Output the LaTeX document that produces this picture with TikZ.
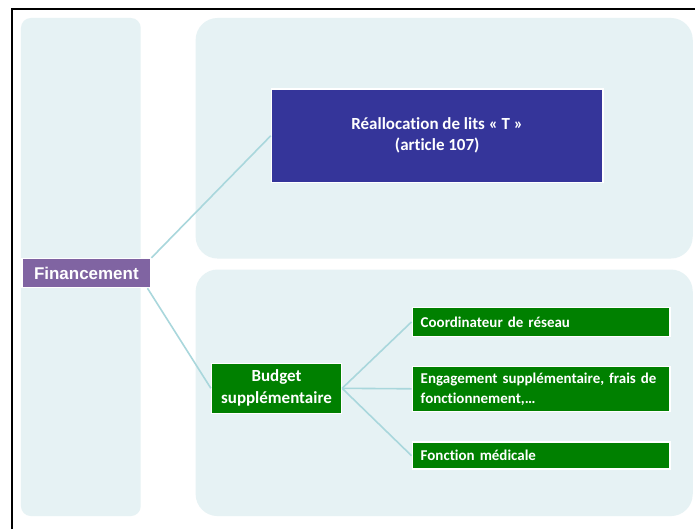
\documentclass[tikz,border=0pt]{standalone}
\usepackage{fontspec}
\setmainfont{Carlito}[Ligatures=NoCommon]
\newfontfamily\arialfont{Liberation Sans}
\usetikzlibrary{positioning}
\definecolor{panelcyan}{HTML}{E6F2F4}
\definecolor{finpurple}{HTML}{8064A2}
\definecolor{reallocblue}{HTML}{35359A}
\definecolor{budgetgreen}{HTML}{008000}
\definecolor{linkcyan}{HTML}{A9D7DC}

\begin{document}
\begin{tikzpicture}[x=1pt, y=-1pt,
  panel/.style={fill=panelcyan, rounded corners=#1},
  box/.style={rectangle, draw=white, line width=1.5pt, text=white,
    inner sep=0pt, font=\bfseries\fontsize{15}{20}\selectfont},
  leaf/.style={box, fill=budgetgreen, minimum width=258, inner xsep=8.5pt,
    text width=241, align=left},
  link/.style={linkcyan, line width=1.6pt},
]
  \fill[white] (0,0) rectangle (696,530);
  \draw[line width=2.5pt] (12,530) |- (696,9);

  % background columns
  \fill[panel=10pt] (21,18) rectangle (141,517);
  \fill[panel=22pt] (196,18) rectangle (694,259);
  \fill[panel=22pt] (196,270) rectangle (694,517);

  \node[box, fill=finpurple, minimum width=129, minimum height=29,
    font=\arialfont\bfseries\fontsize{17}{20}\selectfont] (fin) at (86.5,273.5) {Financement};
  \node[box, fill=reallocblue, minimum width=332, minimum height=94, align=center,
    font=\bfseries\fontsize{17}{21}\selectfont] (realloc) at (438,136)
    {Réallocation de lits « T »\\(article 107)};
  \node[box, fill=budgetgreen, minimum width=130, minimum height=50, align=center,
    font=\bfseries\fontsize{17}{22}\selectfont] (budget) at (277,389) {Budget\\supplémentaire};
  \node[leaf, minimum height=29] (coord) at (542,322.5) {Coordinateur de réseau};
  \node[leaf, minimum height=45] (engag) at (542,389.5)
    {Engagement supplémentaire, frais de\\fonctionnement,…};
  \node[leaf, minimum height=27] (medic) at (542,456.5) {Fonction médicale};

  \draw[link] (fin.north east) -- (realloc.west);
  \draw[link] ([xshift=-4pt]fin.south east) -- (budget.west);
  \draw[link] (budget.east) -- (coord.west);
  \draw[link] (budget.east) -- (engag.west);
  \draw[link] (budget.east) -- (medic.west);
\end{tikzpicture}
\end{document}
